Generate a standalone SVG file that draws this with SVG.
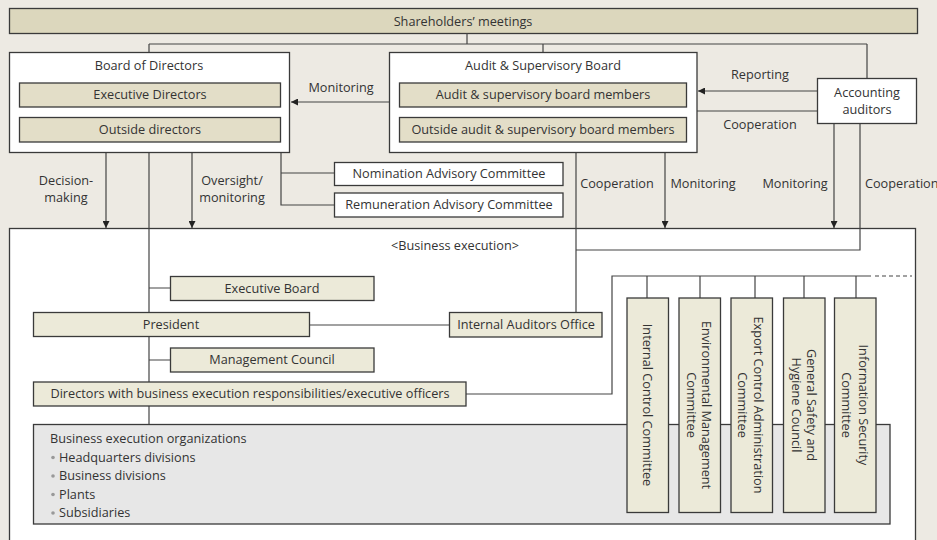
<svg xmlns="http://www.w3.org/2000/svg" width="937" height="540" viewBox="0 0 937 540">
<style>
text{font-family:"Open Sans","Noto Sans","Liberation Sans",sans-serif;font-size:12.7px;fill:#333;}
.c{text-anchor:middle;}
.box{stroke:#3a3a3a;stroke-width:1.3;}
.white{fill:#fff;}
.tan{fill:#dcd7bd;}
.tan2{fill:#e3dec8;}
.pale{fill:#ecead9;}
.gray{fill:#e7e7e7;}
.ln{stroke:#444;stroke-width:1.2;fill:none;}
</style>
<defs>
<marker id="ah" viewBox="0 0 10 10" refX="10" refY="5" markerWidth="7" markerHeight="7" markerUnits="userSpaceOnUse" orient="auto">
<path d="M0,0 L10,5 L0,10 z" fill="#222"/>
</marker>
</defs>
<rect x="0" y="0" width="937" height="540" fill="#edeae3"/>

<g id="shareholders">
<rect class="box tan" x="9.5" y="8.5" width="908" height="25"/>
<text class="c" x="463" y="25.5">Shareholders’ meetings</text>
</g>

<g id="business-execution">
<rect class="box white" x="9.5" y="228.5" width="906" height="330"/>
<text class="c" x="455" y="249.5">&lt;Business execution&gt;</text>
</g>

<g id="connectors">
<path class="ln" d="M467,33 V44 M149,44 H867 M149,44 V52 M543,44 V52 M867,44 V78"/>
<path class="ln" d="M389,102 H291" marker-end="url(#ah)"/>
<path class="ln" d="M817,91 H698" marker-end="url(#ah)"/>
<path class="ln" d="M697,111 H817"/>
<path class="ln" d="M106,152 V228" marker-end="url(#ah)"/>
<path class="ln" d="M192,152 V228" marker-end="url(#ah)"/>
<path class="ln" d="M149,152 V424"/>
<path class="ln" d="M281,152 V205 H334 M281,173 H334"/>
<path class="ln" d="M576,152 V312"/>
<path class="ln" d="M665,152 V228" marker-end="url(#ah)"/>
<path class="ln" d="M834,123 V228" marker-end="url(#ah)"/>
<path class="ln" d="M860,123 V250 H576"/>
<path class="ln" d="M149,288 H170 M149,360 H170"/>
<path class="ln" d="M309,325 H449"/>
<path class="ln" d="M466,394 H612 V276 H871"/>
<path class="ln" d="M875,276 H912" stroke-dasharray="4,3"/>
<path class="ln" d="M647,276 V298 M700,276 V298 M755,276 V298 M804,276 V298 M856,276 V298"/>
</g>

<g id="labels">
<text class="c" x="341" y="92">Monitoring</text>
<text class="c" x="760" y="79">Reporting</text>
<text class="c" x="760" y="129">Cooperation</text>
<text class="c" x="66" y="185">Decision-</text>
<text class="c" x="66" y="202">making</text>
<text class="c" x="232" y="185">Oversight/</text>
<text class="c" x="232" y="202">monitoring</text>
<text class="c" x="617" y="188">Cooperation</text>
<text class="c" x="703" y="188">Monitoring</text>
<text class="c" x="795" y="188">Monitoring</text>
<text x="865" y="188">Cooperation</text>
</g>

<g id="board-of-directors">
<rect class="box white" x="9.5" y="52.5" width="280" height="100"/>
<text class="c" x="149" y="70">Board of Directors</text>
<rect class="box tan2" x="19.5" y="83" width="261" height="24"/>
<text class="c" x="150" y="99">Executive Directors</text>
<rect class="box tan2" x="19.5" y="117.5" width="261" height="24.5"/>
<text class="c" x="150" y="134">Outside directors</text>
</g>

<g id="audit-board">
<rect class="box white" x="389.5" y="52.5" width="307.5" height="100"/>
<text class="c" x="543" y="70">Audit &amp; Supervisory Board</text>
<rect class="box tan2" x="399.5" y="83" width="287" height="24"/>
<text class="c" x="543" y="99">Audit &amp; supervisory board members</text>
<rect class="box tan2" x="399.5" y="117.5" width="287" height="24.5"/>
<text class="c" x="543" y="134">Outside audit &amp; supervisory board members</text>
</g>

<g id="accounting-auditors">
<rect class="box white" x="817.5" y="78.5" width="99" height="45"/>
<text class="c" x="867" y="97">Accounting</text>
<text class="c" x="867" y="114">auditors</text>
</g>

<g id="nomination">
<rect class="box white" x="334.5" y="162.5" width="228.5" height="23"/>
<text class="c" x="449" y="178">Nomination Advisory Committee</text>
</g>

<g id="remuneration">
<rect class="box white" x="334.5" y="193" width="228.5" height="24"/>
<text class="c" x="449" y="209">Remuneration Advisory Committee</text>
</g>

<g id="executive-board">
<rect class="box pale" x="170.5" y="276.5" width="203.5" height="24"/>
<text class="c" x="272" y="292.5">Executive Board</text>
</g>

<g id="president">
<rect class="box pale" x="33.5" y="312.5" width="276" height="24"/>
<text class="c" x="171" y="329">President</text>
</g>

<g id="internal-auditors">
<rect class="box pale" x="449.5" y="312.5" width="152.5" height="24.5"/>
<text class="c" x="526" y="329">Internal Auditors Office</text>
</g>

<g id="management-council">
<rect class="box pale" x="170.5" y="348" width="203.5" height="24"/>
<text class="c" x="272" y="364">Management Council</text>
</g>

<g id="directors-exec">
<rect class="box pale" x="33.5" y="382" width="432.5" height="24"/>
<text class="c" x="250" y="398">Directors with business execution responsibilities/executive officers</text>
</g>

<g id="business-orgs">
<rect class="box gray" x="33.5" y="424.5" width="856.5" height="99.5"/>
<text x="50" y="443">Business execution organizations</text>
<circle cx="53" cy="457.5" r="1.8" fill="#999"/>
<text x="59" y="461.5">Headquarters divisions</text>
<circle cx="53" cy="476" r="1.8" fill="#999"/>
<text x="59" y="480">Business divisions</text>
<circle cx="53" cy="494.5" r="1.8" fill="#999"/>
<text x="59" y="498.5">Plants</text>
<circle cx="53" cy="513" r="1.8" fill="#999"/>
<text x="59" y="517">Subsidiaries</text>
</g>

<g id="internal-control">
<rect class="box pale" x="627" y="298" width="41.5" height="214.5"/>
<text class="c" transform="translate(643,405) rotate(90)">Internal Control Committee</text>
</g>

<g id="environmental">
<rect class="box pale" x="679" y="298" width="41.5" height="214.5"/>
<text class="c" transform="translate(702,405) rotate(90)">Environmental Management</text>
<text class="c" transform="translate(687,405) rotate(90)">Committee</text>
</g>

<g id="export-control">
<rect class="box pale" x="731" y="298" width="41.5" height="214.5"/>
<text class="c" transform="translate(754,405) rotate(90)">Export  Control Administration</text>
<text class="c" transform="translate(738,405) rotate(90)">Committee</text>
</g>

<g id="safety-hygiene">
<rect class="box pale" x="783.5" y="298" width="41.5" height="214.5"/>
<text class="c" transform="translate(807,405) rotate(90)">General Safety and</text>
<text class="c" transform="translate(792,405) rotate(90)">Hygiene Council</text>
</g>

<g id="info-security">
<rect class="box pale" x="834.5" y="298" width="41.5" height="214.5"/>
<text class="c" transform="translate(859,405) rotate(90)">Information Security</text>
<text class="c" transform="translate(842,405) rotate(90)">Committee</text>
</g>
</svg>
